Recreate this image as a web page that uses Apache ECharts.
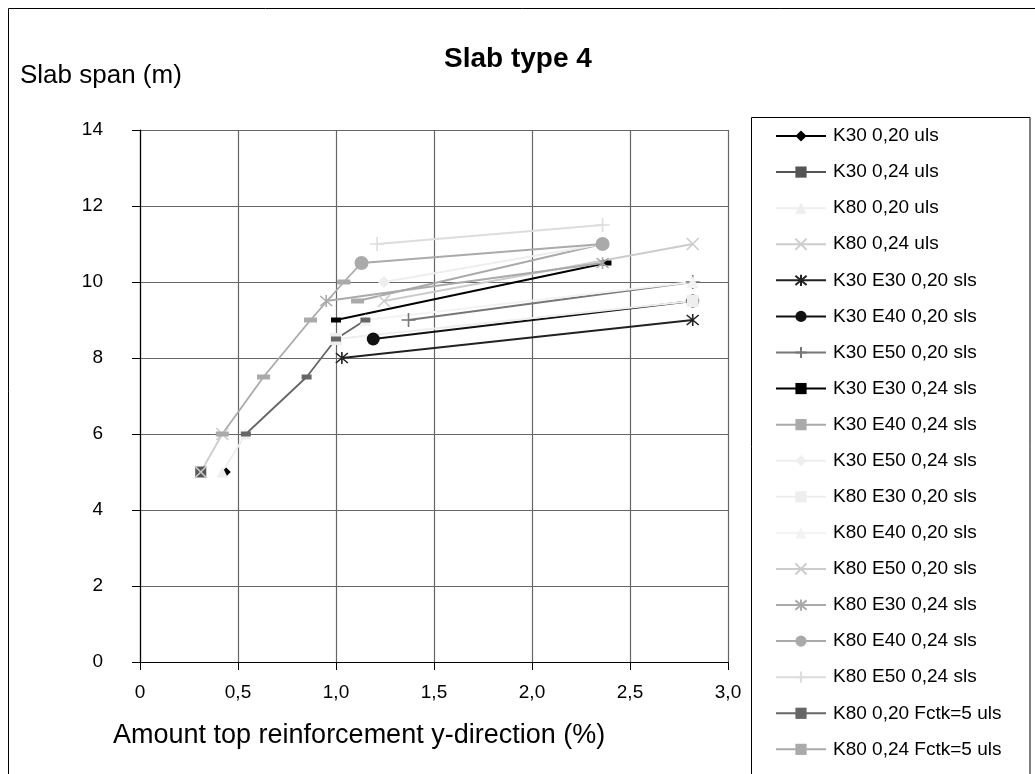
<!DOCTYPE html>
<html>
<head>
<meta charset="utf-8">
<script src="https://cdn.jsdelivr.net/npm/echarts@6/dist/echarts.min.js"></script>
<style>html,body{margin:0;padding:0;background:#fff}#c{width:1035px;height:774px}</style>
</head>
<body>
<div id="c"></div>
<script>
// ---- Data ----
const xTicks = [0, 0.5, 1.0, 1.5, 2.0, 2.5, 3.0];
const yTicks = [0, 2, 4, 6, 8, 10, 12, 14];

const K30_020_uls      = [[0.44, 5]];
const K30_024_uls      = [[0.31, 5]];
const K80_020_uls      = [[0.42, 5], [0.54, 6]];
const K80_024_uls      = [[0.31, 5], [0.42, 6]];
const K30_E30_020_sls  = [[1.03, 8.0], [2.82, 9.0]];
const K30_E40_020_sls  = [[1.19, 8.5], [2.82, 9.5]];
const K30_E50_020_sls  = [[1.37, 9.0], [2.82, 10.0]];
const K30_E30_024_sls  = [[1.00, 9.0], [2.38, 10.5]];
const K30_E40_024_sls  = [[1.11, 9.5], [2.36, 11.0]];
const K30_E50_024_sls  = [[1.245, 10.0], [2.36, 11.0]];
const K80_E30_020_sls  = [[1.00, 8.5], [2.82, 9.5]];
const K80_E40_020_sls  = [[1.15, 9.0], [2.82, 10.0]];
const K80_E50_020_sls  = [[1.245, 9.5], [2.82, 11.0]];
const K80_E30_024_sls  = [[0.95, 9.5], [2.36, 10.5]];
const K80_E40_024_sls  = [[1.13, 10.5], [2.36, 11.0]];
const K80_E50_024_sls  = [[1.21, 11.0], [2.36, 11.5]];
const K80_020_Fctk_uls = [[0.54, 6.0], [0.85, 7.5], [1.00, 8.5], [1.15, 9.0]];
const K80_024_Fctk_uls = [[0.42, 6.0], [0.63, 7.5], [0.87, 9.0], [1.04, 10.0], [1.13, 10.5]];

const names = [
  'K30 0,20 uls', 'K30 0,24 uls', 'K80 0,20 uls', 'K80 0,24 uls',
  'K30 E30 0,20 sls', 'K30 E40 0,20 sls', 'K30 E50 0,20 sls',
  'K30 E30 0,24 sls', 'K30 E40 0,24 sls', 'K30 E50 0,24 sls',
  'K80 E30 0,20 sls', 'K80 E40 0,20 sls', 'K80 E50 0,20 sls',
  'K80 E30 0,24 sls', 'K80 E40 0,24 sls', 'K80 E50 0,24 sls',
  'K80 0,20 Fctk=5 uls', 'K80 0,24 Fctk=5 uls'
];
const dataSets = [
  K30_020_uls, K30_024_uls, K80_020_uls, K80_024_uls,
  K30_E30_020_sls, K30_E40_020_sls, K30_E50_020_sls,
  K30_E30_024_sls, K30_E40_024_sls, K30_E50_024_sls,
  K80_E30_020_sls, K80_E40_020_sls, K80_E50_020_sls,
  K80_E30_024_sls, K80_E40_024_sls, K80_E50_024_sls,
  K80_020_Fctk_uls, K80_024_Fctk_uls
];

// ---- Styles ----
const X = 'path://M0,0L10,10M10,0L0,10';
const AST = 'path://M0,0L10,10M10,0L0,10M5,-1L5,11';
const PLUS = 'path://M5,0L5,10M0,5L10,5';
const FONT = 'Liberation Sans, Arial, sans-serif';
const styles = [
  {c: '#000000', s: 'diamond', z: 9},
  {c: '#555555', s: 'rect', z: 11},
  {c: '#eeeeee', s: 'triangle', z: 11},
  {c: '#cccccc', s: X, z: 12, stroke: true},
  {c: '#222222', s: AST, z: 12, stroke: true},
  {c: '#111111', s: 'circle', z: 13},
  {c: '#777777', s: PLUS, z: 14, stroke: true},
  {c: '#000000', s: 'rect', z: [10, 5]},
  {c: '#aaaaaa', s: 'rect', z: [13, 5]},
  {c: '#eeeeee', s: 'diamond', z: 12},
  {c: '#eeeeee', s: 'rect', z: 12},
  {c: '#f3f3f3', s: 'triangle', z: 12},
  {c: '#cccccc', s: X, z: 12, stroke: true},
  {c: '#aaaaaa', s: AST, z: 12, stroke: true},
  {c: '#aaaaaa', s: 'circle', z: 14},
  {c: '#dddddd', s: PLUS, z: 14, stroke: true},
  {c: '#666666', s: 'rect', z: [10, 5]},
  {c: '#aaaaaa', s: 'rect', z: [13, 5]}
];

const series = names.map((n, i) => {
  const st = styles[i];
  return {
    name: n,
    type: 'line',
    data: dataSets[i],
    symbol: st.s,
    symbolSize: st.z,
    showAllSymbol: true,
    lineStyle: {color: st.c, width: 1.8},
    itemStyle: {color: st.c, borderColor: st.c, borderWidth: st.stroke ? 1.6 : 0, opacity: 1},
    emphasis: {disabled: true},
    animation: false,
    z: 2
  };
});

const fmt = v => (v === 0 ? '0' : v.toFixed(1).replace('.', ','));

const chart = echarts.init(document.getElementById('c'), null, {renderer: 'canvas'});
chart.setOption({
  backgroundColor: '#ffffff',
  animation: false,
  textStyle: {fontFamily: FONT},
  title: {
    text: 'Slab type 4',
    left: 444, top: 45,
    padding: 0,
    textStyle: {fontSize: 28, fontWeight: 'bold', color: '#000', fontFamily: FONT}
  },
  grid: {left: 140, right: 307, top: 130, bottom: 112, containLabel: false},
  xAxis: {
    type: 'value', min: xTicks[0], max: xTicks[xTicks.length - 1], interval: 0.5,
    axisLine: {show: true, onZero: false, lineStyle: {color: '#000', width: 1.2}},
    axisTick: {show: true, inside: false, length: 8, lineStyle: {color: '#000', width: 1}},
    axisLabel: {formatter: fmt, fontSize: 19, color: '#000', margin: 21, fontFamily: FONT},
    splitLine: {show: true, lineStyle: {color: '#666', width: 1.2}}
  },
  yAxis: {
    type: 'value', min: yTicks[0], max: yTicks[yTicks.length - 1], interval: 2,
    axisLine: {show: true, onZero: false, lineStyle: {color: '#000', width: 1.2}},
    axisTick: {show: true, inside: false, length: 8, lineStyle: {color: '#000', width: 1}},
    axisLabel: {fontSize: 19, color: '#000', margin: 37, fontFamily: FONT},
    splitLine: {show: true, lineStyle: {color: '#666', width: 1.2}}
  },
  legend: {
    orient: 'vertical',
    left: 775, top: 126,
    padding: 0,
    itemWidth: 50, itemHeight: 14,
    itemGap: 16.08,
    selectedMode: false,
    textStyle: {fontSize: 19, color: '#000', lineHeight: 20, padding: [0, 0, 0, 2], fontFamily: FONT},
    data: names
  },
  graphic: [
    {type: 'rect', silent: true, shape: {x: 8.5, y: 8.5, width: 1100, height: 1000},
     style: {fill: 'none', stroke: '#000', lineWidth: 1}},
    {type: 'rect', silent: true, shape: {x: 751.5, y: 117.5, width: 278.5, height: 700},
     style: {fill: 'none', stroke: '#000', lineWidth: 1}},
    {type: 'text', silent: true, left: 20, top: 63,
     style: {text: 'Slab span (m)', fontSize: 26, fill: '#000', fontFamily: FONT}},
    {type: 'text', silent: true, left: 113, top: 722,
     style: {text: 'Amount top reinforcement y-direction (%)', fontSize: 27, fill: '#000', fontFamily: FONT}}
  ],
  series: series
});
</script>
</body>
</html>
